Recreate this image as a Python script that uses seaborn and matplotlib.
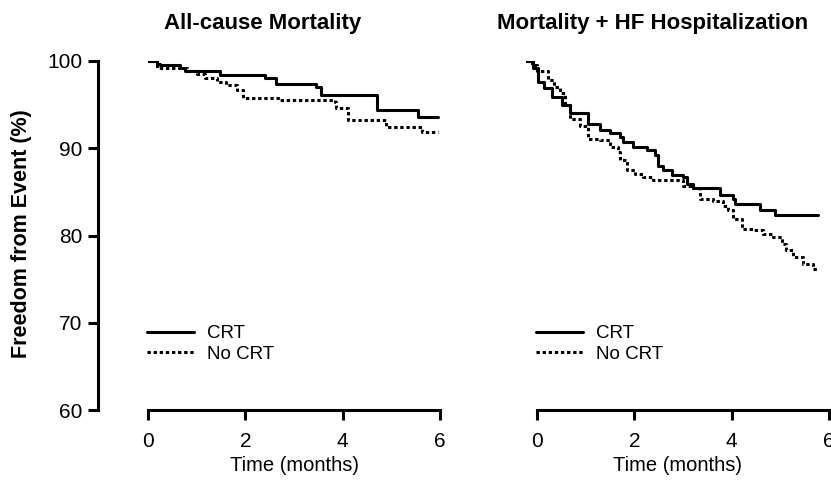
import numpy as np
import pandas as pd
import matplotlib
matplotlib.use("Agg")
import matplotlib.pyplot as plt
import seaborn as sns

# Kaplan-Meier style curves (time in months, % event free)
mort_crt_t = [0, 0.18, 0.25, 0.66, 0.76, 1.48, 2.40, 2.64, 3.46, 3.55, 4.70, 5.55, 5.95]
mort_crt_y = [100, 99.7, 99.5, 99.2, 98.9, 98.4, 98.0, 97.4, 97.0, 96.1, 94.4, 93.6, 93.6]

mort_nocrt_t = [0, 0.18, 0.80, 1.00, 1.17, 1.41, 1.61, 1.82, 1.96, 2.71, 3.84, 3.87, 4.11, 4.90, 5.62, 5.95]
mort_nocrt_y = [100, 99.2, 98.9, 98.5, 98.0, 97.6, 97.2, 96.7, 95.8, 95.5, 95.3, 94.6, 93.2, 92.4, 91.9, 91.9]

hf_crt_t = [0, 0.14, 0.25, 0.36, 0.53, 0.73, 0.90, 1.28, 1.52, 1.72, 1.93, 2.00, 2.20, 2.48, 2.65,
            2.72, 2.82, 2.99, 3.23, 3.30, 3.44, 3.98, 4.26, 4.30, 4.80, 5.11, 6.00]
hf_crt_y = [100, 99.2, 97.6, 96.9, 95.9, 94.9, 94.0, 92.8, 92.1, 91.7, 91.3, 90.7, 90.1, 89.8, 89.2,
            88.0, 87.5, 86.9, 86.7, 85.9, 85.4, 84.6, 84.2, 83.6, 82.9, 82.3, 82.3]

hf_nocrt_t = [0, 0.12, 0.22, 0.46, 0.58, 0.70, 0.80, 0.90, 1.11, 1.28, 1.52, 1.72, 1.90, 1.93, 2.07,
              2.24, 2.41, 2.61, 3.23, 3.44, 3.57, 3.85, 4.05, 4.15, 4.26, 4.43, 4.67, 4.87, 5.08,
              5.25, 5.35, 5.49, 5.69, 5.90, 6.00]
hf_nocrt_y = [100, 99.5, 98.8, 97.8, 97.0, 96.3, 95.0, 93.4, 92.5, 91.1, 90.9, 90.1, 89.6, 88.6, 87.5,
              87.1, 86.7, 86.4, 85.7, 85.4, 84.2, 84.0, 83.4, 82.9, 81.9, 80.8, 80.6, 80.2, 79.8,
              79.0, 78.3, 77.5, 76.7, 76.2, 76.2]

panel_titles = ["All-cause Mortality", "Mortality + HF Hospitalization"]
group_labels = ["CRT", "No CRT"]
x_ticks = [0, 2, 4, 6]
y_ticks = [60, 70, 80, 90, 100]

sns.set_style("ticks")
plt.rcParams['font.family'] = ['Liberation Sans', 'DejaVu Sans']
for k in ['text.color', 'axes.labelcolor', 'xtick.color', 'ytick.color', 'axes.edgecolor']:
    plt.rcParams[k] = 'black'

W, H = 831, 482
fig = plt.figure(figsize=(W / 100, H / 100), dpi=100)

def px_rect(x0, x1, y_top, y_bot):
    return [x0 / W, 1 - y_bot / H, (x1 - x0) / W, (y_bot - y_top) / H]

lw = 2.2
dotted = (0, (1.1, 0.9))

def draw(ax, crt_t, crt_y, no_t, no_y):
    sns.lineplot(x=crt_t, y=crt_y, ax=ax, color="black", lw=lw,
                 drawstyle="steps-post", label=group_labels[0])
    sns.lineplot(x=no_t, y=no_y, ax=ax, color="black", lw=lw, linestyle=dotted,
                 drawstyle="steps-post", label=group_labels[1])

def style_xaxis(ax):
    ax.set_xticks(x_ticks)
    ax.spines['bottom'].set_bounds(0, 6)
    ax.spines['bottom'].set_linewidth(lw)
    ax.tick_params(axis='x', length=7, width=lw, pad=8.5, labelsize=15, color="black")
    ax.set_xlabel("Time (months)", fontsize=14.5, labelpad=4)

# left panel
ax1 = fig.add_axes(px_rect(148, 440, 61, 410))
draw(ax1, mort_crt_t, mort_crt_y, mort_nocrt_t, mort_nocrt_y)
ax1.set_xlim(0, 6)
ax1.set_ylim(60, 100)
ax1.set_yticks(y_ticks)
for s in ['top', 'right']:
    ax1.spines[s].set_visible(False)
ax1.spines['left'].set_position(('outward', 36))
ax1.spines['left'].set_linewidth(lw)
ax1.spines['left'].set_bounds(60, 100)
ax1.tick_params(axis='y', length=7, width=lw, pad=4, labelsize=15)
ax1.set_ylabel("")
style_xaxis(ax1)

# right panel: curves sit slightly left of the tick axis, as in the original
ax2 = fig.add_axes(px_rect(526, 829, 61, 410))
draw(ax2, hf_crt_t, hf_crt_y, hf_nocrt_t, hf_nocrt_y)
shift = 11 / (292 / 6)
ax2.set_xlim(0, 6 + shift)
ax2.set_ylim(60, 100)
for s in ['top', 'right', 'left', 'bottom']:
    ax2.spines[s].set_visible(False)
ax2.set_xticks([])
ax2.set_yticks([])
ax2.set_xlabel("")

ax2t = ax2.twiny()
ax2t.set_xlim(-shift, 6)
for s in ['top', 'right', 'left']:
    ax2t.spines[s].set_visible(False)
ax2t.xaxis.set_ticks_position('bottom')
ax2t.xaxis.set_label_position('bottom')
ax2t.spines['bottom'].set_position(('axes', 0))
ax2t.spines['bottom'].set_visible(True)
style_xaxis(ax2t)

# legends
for ax, x0 in [(ax1, 147), (ax2, 536)]:
    ax.legend(loc="upper left", bbox_to_anchor=(x0 / W, 1 - 325 / H),
              bbox_transform=fig.transFigure, frameon=False, fontsize=13.5,
              handlelength=2.5, handletextpad=0.7, labelspacing=0.2,
              borderpad=0, borderaxespad=0)

fig.text(263 / W, 1 - 23 / H, panel_titles[0], ha="center", va="center",
         fontsize=16, fontweight="bold")
fig.text(653 / W, 1 - 23 / H, panel_titles[1], ha="center", va="center",
         fontsize=16, fontweight="bold")
fig.text(22 / W, 1 - 234 / H, "Freedom from Event (%)", rotation=90,
         ha="center", va="center", fontsize=15.5, fontweight="bold")

fig.savefig("out.png", dpi=100)
